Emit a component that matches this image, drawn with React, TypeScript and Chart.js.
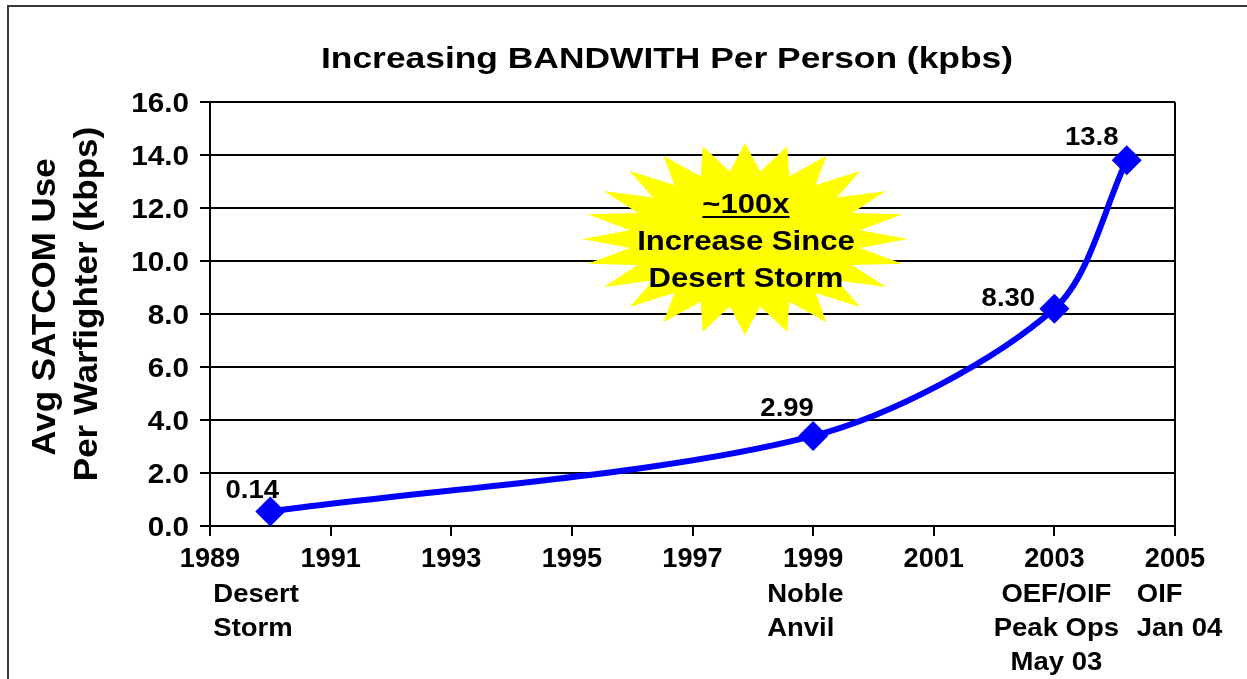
import React, { useEffect, useRef } from "react";
import { Chart, registerables } from "chart.js";

Chart.register(...registerables);

// ---------- data ----------
const chartTitle = "Increasing BANDWITH Per Person (kpbs)";
const yAxisTitle = ["Avg SATCOM Use", "Per Warfighter (kbps)"];
const years = [1990, 1999, 2003, 2004.2];
const values = [0.55, 3.4, 8.2, 13.8];
const valueLabels = ["0.14", "2.99", "8.30", "13.8"];
const eventLabels = [
  ["Desert", "Storm"],
  ["Noble", "Anvil"],
  ["OEF/OIF", "Peak Ops", "May 03"],
  ["OIF", "Jan 04"],
];
const xMin = 1989;
const xMax = 2005;
const xStep = 2;
const yMin = 0;
const yMax = 16;
const yStep = 2;
const burstLines = ["~100x", "Increase Since", "Desert Storm"];
const burstCenter = { x: 1997.87, y: 10.83 };

// ---------- styling / layout ----------
const FONT = '"Liberation Sans", Arial, Helvetica, sans-serif';
const valueLabelOffsets = [
  [-18, -22],
  [-26, -29],
  [-46, -12],
  [-35, -24],
];
const eventLabelLayout = [
  { align: "left", dx: -57 },
  { align: "left", dx: -46 },
  { align: "center", dx: 2 },
  { align: "left", dx: 10 },
];

function drawText(
  ctx: CanvasRenderingContext2D,
  text: string,
  x: number,
  y: number,
  size: number,
  sx: number,
  align: string
) {
  ctx.save();
  ctx.font = `bold ${size}px ${FONT}`;
  ctx.textAlign = "left";
  ctx.textBaseline = "alphabetic";
  ctx.fillStyle = "#000";
  const w = ctx.measureText(text).width * sx;
  const left = align === "center" ? x - w / 2 : align === "right" ? x - w : x;
  ctx.translate(left, y);
  ctx.scale(sx, 1);
  ctx.fillText(text, 0, 0);
  ctx.restore();
  return { left, w };
}

const decorPlugin = {
  id: "decor",
  beforeDraw(chart: any) {
    const ctx = chart.ctx as CanvasRenderingContext2D;
    ctx.save();
    ctx.fillStyle = "#fff";
    ctx.fillRect(0, 0, chart.width, chart.height);
    ctx.strokeStyle = "#3a3a3a";
    ctx.lineWidth = 2;
    ctx.beginPath();
    ctx.moveTo(8, chart.height);
    ctx.lineTo(8, 6);
    ctx.lineTo(chart.width, 6);
    ctx.stroke();
    ctx.restore();
  },
  beforeDatasetsDraw(chart: any) {
    const ctx = chart.ctx as CanvasRenderingContext2D;
    const { x: xs, y: ys } = chart.scales;
    const ca = chart.chartArea;
    // right border of plot
    ctx.save();
    ctx.strokeStyle = "#000";
    ctx.lineWidth = 2;
    ctx.beginPath();
    ctx.moveTo(ca.right, ca.top);
    ctx.lineTo(ca.right, ca.bottom);
    ctx.stroke();
    ctx.restore();

    // starburst
    const cx = xs.getPixelForValue(burstCenter.x);
    const cy = ys.getPixelForValue(burstCenter.y);
    const n = 24;
    const rxo = 163, ryo = 96, rxi = 116, ryi = 68;
    ctx.save();
    ctx.fillStyle = "#FFFF00";
    ctx.beginPath();
    for (let i = 0; i < n * 2; i++) {
      const a = (i * Math.PI) / n;
      const outer = i % 2 === 0;
      const px = cx + Math.cos(a) * (outer ? rxo : rxi);
      const py = cy - Math.sin(a) * (outer ? ryo : ryi);
      if (i === 0) ctx.moveTo(px, py);
      else ctx.lineTo(px, py);
    }
    ctx.closePath();
    ctx.fill();
    ctx.restore();

    const tcx = cx + 1;
    const baselines = [cy - 26, cy + 11, cy + 48];
    burstLines.forEach((t, i) => {
      const r = drawText(ctx, t, tcx, baselines[i], 27, 1.15, "center");
      if (i === 0) {
        ctx.save();
        ctx.fillStyle = "#000";
        ctx.fillRect(r.left, baselines[i] + 3, r.w, 2);
        ctx.restore();
      }
    });
  },
  afterDraw(chart: any) {
    const ctx = chart.ctx as CanvasRenderingContext2D;
    const { x: xs, y: ys } = chart.scales;
    const ca = chart.chartArea;

    // title
    drawText(ctx, chartTitle, 667, 68, 29, 1.22, "center");

    // y axis title (rotated)
    const yTitleX = [55, 97];
    const yTitleY = [307, 304];
    yAxisTitle.forEach((t, i) => {
      ctx.save();
      ctx.translate(yTitleX[i], yTitleY[i]);
      ctx.rotate(-Math.PI / 2);
      drawText(ctx, t, 0, 0, 33, 1.06, "center");
      ctx.restore();
    });

    // y tick labels
    ys.ticks.forEach((tk: any) => {
      const py = ys.getPixelForValue(tk.value);
      drawText(ctx, Number(tk.value).toFixed(1), ca.left - 21, py + 0.358 * 27, 27, 1.1, "right");
    });

    // x tick labels
    xs.ticks.forEach((tk: any) => {
      const px = xs.getPixelForValue(tk.value);
      drawText(ctx, String(tk.value), px, ca.bottom + 40.5, 28, 0.97, "center");
    });

    // event labels under axis
    eventLabels.forEach((lines, i) => {
      const px = xs.getPixelForValue(years[i]) + eventLabelLayout[i].dx;
      lines.forEach((t, j) => {
        drawText(ctx, t, px, ca.bottom + 75.5 + j * 34, 25, 1.1, eventLabelLayout[i].align);
      });
    });

    // value labels
    const meta = chart.getDatasetMeta(0);
    meta.data.forEach((pt: any, i: number) => {
      const [dx, dy] = valueLabelOffsets[i];
      drawText(ctx, valueLabels[i], pt.x + dx, pt.y + dy + 0.358 * 25, 25, 1.1, "center");
    });
  },
};

export default function App() {
  const canvasRef = useRef<HTMLCanvasElement | null>(null);

  useEffect(() => {
    const canvas = canvasRef.current;
    if (!canvas) return;
    const chart = new Chart(canvas, {
      type: "line",
      data: {
        datasets: [
          {
            data: years.map((x, i) => ({ x, y: values[i] })),
            borderColor: "#0000FF",
            backgroundColor: "#0000FF",
            borderWidth: 6,
            pointStyle: "rectRot",
            pointRadius: 15,
            pointBorderWidth: 0,
            pointBackgroundColor: "#0000FF",
            tension: 0.3,
            fill: false,
            clip: false as any,
          },
        ],
      },
      options: {
        animation: false,
        responsive: false,
        maintainAspectRatio: false,
        devicePixelRatio: 1,
        layout: { padding: { top: 102, right: 72, bottom: 0, left: 0 } },
        plugins: {
          legend: { display: false },
          title: { display: false },
          tooltip: { enabled: false },
        },
        scales: {
          x: {
            type: "linear",
            min: xMin,
            max: xMax,
            ticks: { stepSize: xStep, display: false },
            grid: {
              drawOnChartArea: false,
              drawTicks: true,
              tickLength: 10,
              color: "#000",
              lineWidth: 2,
            },
            border: { display: true, color: "#000", width: 2 },
            afterFit: (scale: any) => {
              scale.height = 153;
            },
          },
          y: {
            min: yMin,
            max: yMax,
            ticks: { stepSize: yStep, display: false },
            grid: {
              drawOnChartArea: true,
              drawTicks: true,
              tickLength: 10,
              color: "#000",
              lineWidth: 2,
            },
            border: { display: true, color: "#000", width: 2 },
            afterFit: (scale: any) => {
              scale.width = 210;
            },
          },
        },
      },
      plugins: [decorPlugin],
    });
    return () => chart.destroy();
  }, []);

  return (
    <div style={{ position: "fixed", left: 0, top: 0, width: 1247, height: 679, background: "#fff" }}>
      <canvas ref={canvasRef} width={1247} height={679} style={{ display: "block" }} />
    </div>
  );
}
